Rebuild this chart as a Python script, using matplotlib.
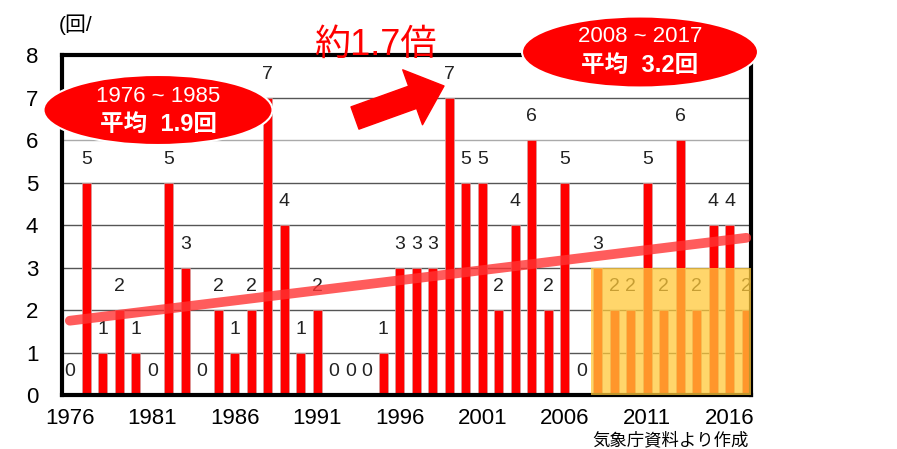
import numpy as np
import matplotlib
matplotlib.use("Agg")
import matplotlib.pyplot as plt
from matplotlib.patches import Ellipse, Rectangle

plt.rcParams['font.family'] = ['Liberation Sans', 'Noto Sans CJK JP', 'DejaVu Sans']

years = list(range(1976, 2018))
counts = [0, 5, 1, 2, 1, 0, 5, 3, 0, 2,
          1, 2, 7, 4, 1, 2, 0, 0, 0, 1,
          3, 3, 3, 7, 5, 5, 2, 4, 6, 2,
          5, 0, 3, 2, 2, 5, 2, 6, 2, 4,
          4, 2]
xtick_years = [1976, 1981, 1986, 1991, 1996, 2001, 2006, 2011, 2016]
trend_years = [1976, 2017]
trend_values = [1.75, 3.7]

fig = plt.figure(figsize=(8.97, 4.49), dpi=100)
ax = fig.add_axes([0.069, 0.120, 0.768, 0.7575])

# horizontal grid
for v in range(1, 8):
    ax.axhline(v, color='#555555' if v != 6 else '#aaaaaa', lw=1, zorder=0)

ax.bar(years, counts, width=0.55, color='#ff0000', edgecolor='#d0a0a0', linewidth=0.5, zorder=2)

for x, v in zip(years, counts):
    ax.text(x, v + 0.55, str(v), ha='center', va='center', fontsize=14, color='#222222', zorder=3)

# recent decade highlight
ax.add_patch(Rectangle((2007.6, 0), 10.0, 3, facecolor='#ffc93a', edgecolor='none', alpha=0.75, zorder=4))

# trend line
ax.plot(trend_years, trend_values, color='#ff3333', lw=7, alpha=0.8, solid_capstyle='round', zorder=5)

ax.set_xlim(1975.52, 2017.27)
ax.set_ylim(0, 8)
ax.set_yticks(range(0, 9))
ax.set_xticks(xtick_years)
ax.tick_params(length=0, labelsize=16)
ax.tick_params(axis='y', pad=17)
ax.tick_params(axis='x', pad=9)
for s in ax.spines.values():
    s.set_linewidth(3)
    s.set_color('black')

# ellipses
W, H = 897, 449
def fig_ellipse(cx, cy, w, h):
    e = Ellipse((cx / W, 1 - cy / H), w / W, h / H, transform=fig.transFigure,
                facecolor='#ff0000', edgecolor='white', lw=1.5, zorder=10)
    fig.patches.append(e)

fig_ellipse(158, 110, 229, 70)
fig.text(158 / W, 1 - 96 / H, '1976 ~ 1985', color='white', fontsize=16, ha='center', va='center', zorder=11)
fig.text(158 / W, 1 - 124 / H, '平均  1.9回', color='white', fontsize=17, fontweight='bold', ha='center', va='center', zorder=11)

fig_ellipse(640, 52, 236, 71)
fig.text(640 / W, 1 - 37 / H, '2008 ~ 2017', color='white', fontsize=16, ha='center', va='center', zorder=11)
fig.text(640 / W, 1 - 65 / H, '平均  3.2回', color='white', fontsize=17, fontweight='bold', ha='center', va='center', zorder=11)

fig.text(375 / W, 1 - 45 / H, '約1.7倍', color='#ff0000', fontsize=26, ha='center', va='center', zorder=11)

ax.annotate('', xy=(444, H - 86), xycoords='figure pixels',
            xytext=(355, H - 118), textcoords='figure pixels',
            arrowprops=dict(arrowstyle='simple,head_width=2.1,head_length=1.2,tail_width=0.85',
                            color='#ff0000', mutation_scale=20, shrinkA=0, shrinkB=0))

fig.text(76 / W, 1 - 25 / H, '(回/', fontsize=15, ha='center', va='center')
fig.text(671 / W, 1 - 440 / H, '気象庁資料より作成', fontsize=12.5, ha='center', va='center')

fig.savefig('out.png', dpi=100)
